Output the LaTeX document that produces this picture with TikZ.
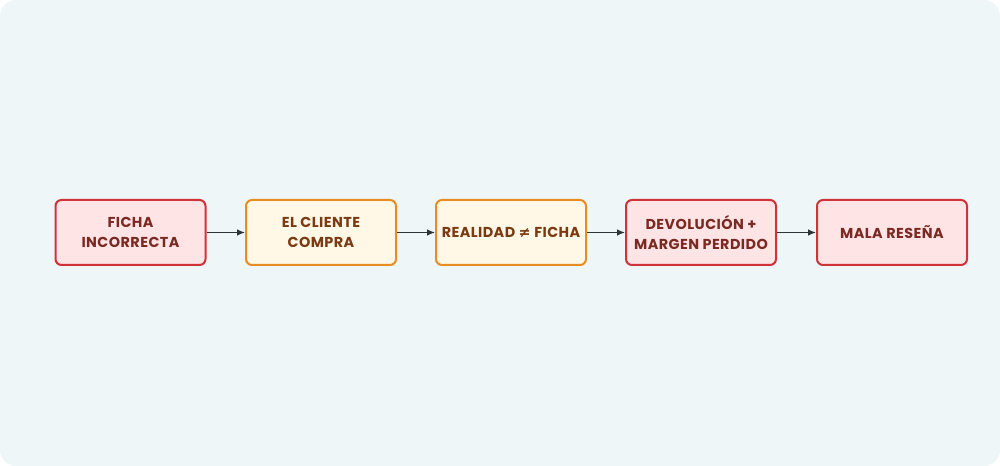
\documentclass[tikz,border=0pt]{standalone}
\usepackage{fontspec}
\setmainfont{Poppins}[LetterSpace=3]
\newfontfamily\symfont{DejaVu Sans}
\usetikzlibrary{arrows.meta}
\definecolor{bgc}{HTML}{EEF6F8}
\definecolor{redb}{HTML}{CF3339}
\definecolor{redf}{HTML}{FFE4E6}
\definecolor{orb}{HTML}{E98C22}
\definecolor{orf}{HTML}{FFF8E6}
\definecolor{redt}{HTML}{7A2A22}
\definecolor{ort}{HTML}{7A3A14}
\definecolor{arr}{HTML}{2D3436}
\tikzset{
  box/.style={draw, line width=1.5pt, rounded corners=4.5pt, minimum width=112.5pt, minimum height=48.75pt, align=center, font=\fontsize{10.8}{14.4}\selectfont\bfseries, inner sep=1pt},
  redbox/.style={box, draw=redb, fill=redf, text=redt},
  orbox/.style={box, draw=orb, fill=orf, text=ort},
  conn/.style={draw=arr, line width=1pt, -{Latex[length=6pt,width=5pt]}}
}
\begin{document}
\begin{tikzpicture}[x=0.75pt,y=-0.75pt]
\useasboundingbox (0,0) rectangle (1000,466);
\fill[bgc, rounded corners=12pt] (0,0) rectangle (1000,466);
\node[redbox] (n1) at (130.5,232.5) {FICHA\\INCORRECTA};
\node[orbox] (n2) at (321,232.5) {EL CLIENTE\\COMPRA};
\node[orbox] (n3) at (511,232.5) {REALIDAD {\symfont ≠} FICHA};
\node[redbox] (n4) at (701,232.5) {DEVOLUCIÓN +\\MARGEN PERDIDO};
\node[redbox] (n5) at (892,232.5) {MALA RESEÑA};
\draw[conn] (n1) -- (n2);
\draw[conn] (n2) -- (n3);
\draw[conn] (n3) -- (n4);
\draw[conn] (n4) -- (n5);
\end{tikzpicture}
\end{document}
